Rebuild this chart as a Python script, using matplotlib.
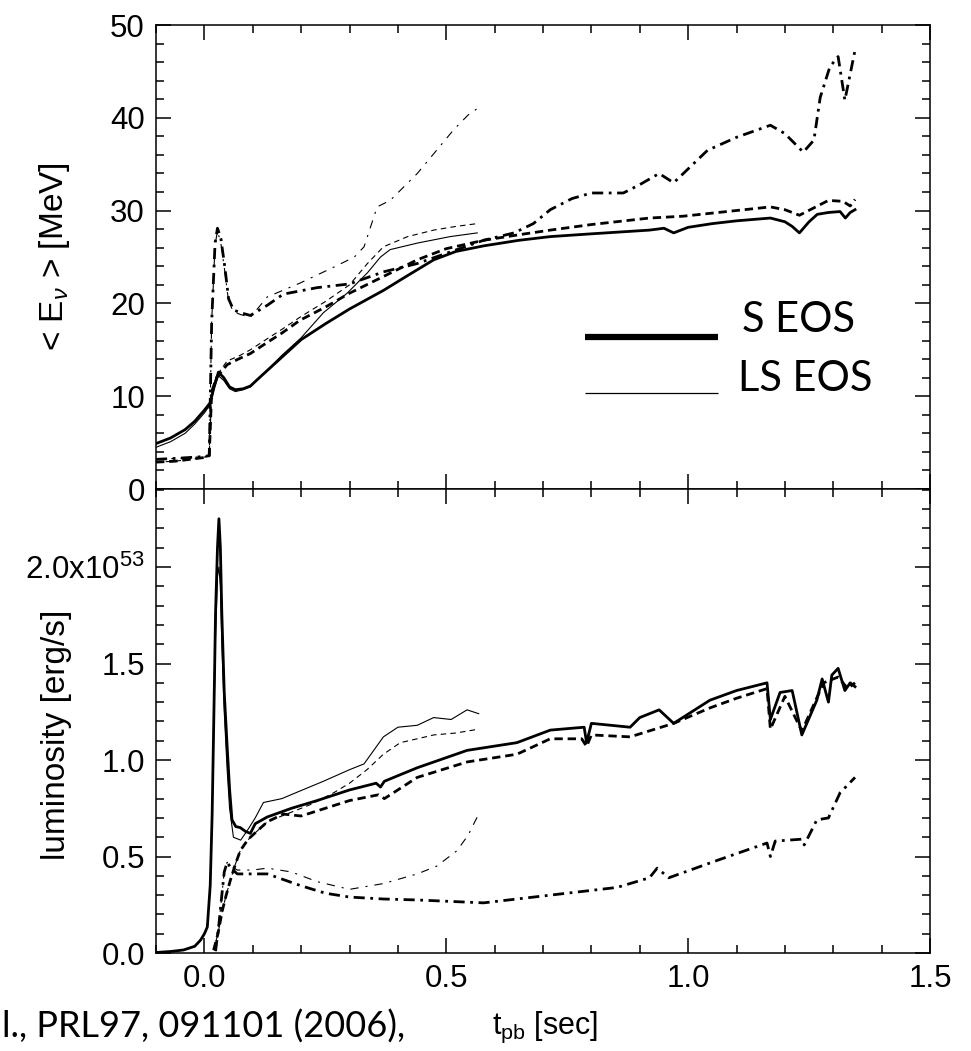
import matplotlib
matplotlib.use('Agg')
import matplotlib.pyplot as plt
from matplotlib.ticker import MultipleLocator, FixedFormatter, FixedLocator

# ---- data (t_pb in sec) ----
# top panel: mean energy <E_nu> [MeV]
s_nue_t = [-0.1, -0.07, -0.04, -0.02, 0.0, 0.012, 0.02, 0.029, 0.04, 0.052, 0.064, 0.08, 0.095,
           0.12, 0.16, 0.2, 0.25, 0.3, 0.37, 0.42, 0.474, 0.52, 0.577, 0.65, 0.715, 0.8, 0.92,
           0.95, 0.97, 1.0, 1.05, 1.1, 1.17, 1.2, 1.215, 1.23, 1.25, 1.267, 1.29, 1.314, 1.325,
           1.335, 1.345]
s_nue_E = [4.9, 5.5, 6.4, 7.3, 8.5, 9.3, 11.0, 12.6, 12.0, 11.0, 10.7, 10.8, 11.1,
           12.3, 14.2, 16.1, 17.8, 19.4, 21.4, 23.0, 24.7, 25.6, 26.2, 26.8, 27.2, 27.5, 27.9,
           28.1, 27.6, 28.2, 28.6, 28.9, 29.2, 28.8, 28.3, 27.6, 28.8, 29.6, 29.8, 29.9, 29.2,
           29.8, 30.1]

ls_nue_t = [-0.1, -0.07, -0.04, -0.02, 0.0, 0.012, 0.02, 0.029, 0.04, 0.052, 0.064, 0.08, 0.095,
            0.12, 0.16, 0.2, 0.246, 0.295, 0.337, 0.364, 0.384, 0.44, 0.508, 0.564]
ls_nue_E = [4.5, 5.1, 6.0, 7.0, 8.2, 9.1, 10.8, 12.2, 11.7, 10.8, 10.5, 10.7, 11.0,
            12.3, 14.4, 16.3, 19.0, 21.1, 23.3, 25.0, 25.8, 26.5, 27.2, 27.6]

s_nueb_t = [-0.1, -0.06, -0.03, 0.0, 0.01, 0.015, 0.025, 0.047, 0.07, 0.095, 0.13, 0.16, 0.198,
            0.25, 0.30, 0.37, 0.44, 0.5, 0.577, 0.65, 0.715, 0.8, 0.92, 0.99, 1.08, 1.17, 1.2,
            1.23, 1.26, 1.29, 1.32, 1.335, 1.345]
s_nueb_E = [2.9, 3.0, 3.2, 3.4, 3.6, 10.5, 12.0, 13.4, 14.0, 14.6, 15.8, 16.8, 18.2,
            19.6, 21.1, 22.9, 24.7, 25.9, 26.8, 27.4, 27.9, 28.5, 29.2, 29.4, 29.9, 30.4, 30.1,
            29.5, 30.3, 31.1, 31.0, 30.5, 31.2]

ls_nueb_t = [-0.1, -0.06, -0.03, 0.0, 0.01, 0.015, 0.025, 0.047, 0.07, 0.095, 0.13, 0.16, 0.2,
             0.25, 0.3, 0.337, 0.37, 0.42, 0.474, 0.52, 0.564]
ls_nueb_E = [2.9, 3.0, 3.2, 3.4, 3.6, 10.5, 12.2, 13.8, 14.3, 15.0, 16.2, 17.2, 18.6,
             20.2, 22.0, 24.3, 26.1, 27.2, 27.9, 28.3, 28.6]

s_numu_t = [-0.1, -0.06, -0.03, 0.0, 0.01, 0.015, 0.022, 0.027, 0.034, 0.042, 0.05, 0.06, 0.075,
            0.095, 0.13, 0.163, 0.233, 0.30, 0.37, 0.44, 0.5, 0.577, 0.64, 0.68, 0.715, 0.76,
            0.8, 0.866, 0.9, 0.94, 0.97, 1.04, 1.1, 1.17, 1.2, 1.238, 1.26, 1.273, 1.293, 1.31,
            1.324, 1.345]
s_numu_E = [3.2, 3.3, 3.4, 3.5, 3.6, 18.0, 26.5, 28.1, 27.0, 24.0, 20.5, 19.3, 19.0,
            18.7, 19.8, 21.0, 21.7, 22.1, 23.4, 24.3, 25.4, 26.8, 27.6, 28.6, 30.1, 31.3,
            31.9, 31.9, 32.8, 34.0, 33.0, 36.5, 37.9, 39.2, 38.3, 36.3, 37.6, 42.2, 45.5, 46.6,
            41.9, 47.3]

ls_numu_t = [-0.1, -0.06, -0.03, 0.0, 0.01, 0.015, 0.022, 0.027, 0.034, 0.042, 0.05, 0.06, 0.075,
             0.095, 0.13, 0.198, 0.267, 0.31, 0.33, 0.357, 0.384, 0.44, 0.48, 0.515, 0.545, 0.567]
ls_numu_E = [3.2, 3.3, 3.4, 3.5, 3.6, 18.0, 26.3, 27.8, 26.5, 23.5, 20.2, 19.1, 18.8,
             18.5, 20.7, 22.2, 23.9, 25.0, 26.1, 30.4, 31.1, 34.0, 36.5, 38.7, 40.3, 41.1]

# bottom panel: luminosity [1e53 erg/s]
s_nue_Lt = [-0.1, -0.07, -0.043, -0.02, -0.008, 0.0, 0.006, 0.012, 0.016, 0.02, 0.023, 0.027,
            0.030, 0.033, 0.036, 0.041, 0.047, 0.052, 0.057, 0.065, 0.074, 0.085, 0.095, 0.105,
            0.13, 0.18, 0.233, 0.30, 0.355, 0.364, 0.372, 0.44, 0.543, 0.646, 0.715, 0.785, 0.79,
            0.80, 0.88, 0.90, 0.94, 0.97, 1.045, 1.10, 1.163, 1.17, 1.19, 1.215, 1.235, 1.266,
            1.277, 1.29, 1.297, 1.31, 1.324, 1.335, 1.345]
s_nue_L = [0.003, 0.008, 0.016, 0.035, 0.067, 0.10, 0.135, 0.35, 0.72, 1.3, 1.76, 2.1,
           2.25, 2.1, 1.76, 1.35, 1.07, 0.85, 0.69, 0.655, 0.65, 0.63, 0.62, 0.67,
           0.705, 0.75, 0.79, 0.845, 0.88, 0.86, 0.89, 0.96, 1.05, 1.09, 1.155, 1.17, 1.09,
           1.19, 1.17, 1.22, 1.26, 1.19, 1.31, 1.36, 1.40, 1.21, 1.35, 1.36, 1.13, 1.31,
           1.42, 1.30, 1.44, 1.475, 1.36, 1.40, 1.38]

ls_nue_Lt = [-0.1, -0.07, -0.043, -0.02, -0.008, 0.0, 0.006, 0.012, 0.016, 0.02, 0.023, 0.027,
             0.030, 0.033, 0.036, 0.041, 0.047, 0.052, 0.06, 0.075, 0.09, 0.105, 0.122, 0.16,
             0.198, 0.246, 0.3, 0.33, 0.37, 0.40, 0.44, 0.474, 0.51, 0.543, 0.567]
ls_nue_L = [0.003, 0.008, 0.016, 0.035, 0.067, 0.10, 0.135, 0.35, 0.72, 1.25, 1.65, 1.95,
            2.0, 1.9, 1.6, 1.25, 0.95, 0.75, 0.6, 0.585, 0.64, 0.70, 0.78, 0.80,
            0.84, 0.89, 0.95, 0.98, 1.12, 1.17, 1.18, 1.22, 1.21, 1.26, 1.24]

s_nueb_Lt = [0.019, 0.028, 0.037, 0.045, 0.054, 0.064, 0.074, 0.085, 0.095, 0.13, 0.163, 0.2,
             0.25, 0.30, 0.36, 0.372, 0.44, 0.543, 0.646, 0.715, 0.78, 0.79, 0.80, 0.88, 0.97,
             1.045, 1.10, 1.163, 1.17, 1.2, 1.235, 1.28, 1.31, 1.33, 1.345]
s_nueb_L = [0.015, 0.1, 0.22, 0.3, 0.38, 0.46, 0.53, 0.57, 0.60, 0.68, 0.72, 0.71,
            0.75, 0.79, 0.82, 0.80, 0.91, 0.99, 1.03, 1.11, 1.11, 1.07, 1.13, 1.12, 1.19,
            1.27, 1.32, 1.37, 1.16, 1.33, 1.15, 1.40, 1.43, 1.37, 1.40]

ls_nueb_Lt = [0.019, 0.028, 0.037, 0.045, 0.054, 0.064, 0.074, 0.085, 0.095, 0.13, 0.17, 0.22,
              0.267, 0.3, 0.336, 0.37, 0.405, 0.44, 0.474, 0.52, 0.567]
ls_nueb_L = [0.015, 0.1, 0.22, 0.3, 0.38, 0.46, 0.53, 0.57, 0.60, 0.68, 0.72, 0.77,
             0.83, 0.88, 0.95, 1.03, 1.09, 1.11, 1.13, 1.14, 1.16]

s_numu_Lt = [0.023, 0.03, 0.036, 0.041, 0.047, 0.055, 0.068, 0.1, 0.13, 0.198, 0.25, 0.30,
             0.37, 0.44, 0.577, 0.715, 0.853, 0.92, 0.936, 0.96, 1.06, 1.163, 1.17, 1.18,
             1.235, 1.24, 1.266, 1.29, 1.314, 1.345]
s_numu_L = [0.01, 0.15, 0.3, 0.42, 0.47, 0.44, 0.41, 0.41, 0.41, 0.35, 0.31, 0.29,
            0.28, 0.275, 0.26, 0.30, 0.34, 0.39, 0.44, 0.39, 0.48, 0.57, 0.50, 0.58,
            0.59, 0.56, 0.69, 0.70, 0.83, 0.91]

ls_numu_Lt = [0.023, 0.03, 0.036, 0.041, 0.047, 0.055, 0.068, 0.1, 0.13, 0.18, 0.233, 0.30,
              0.37, 0.44, 0.48, 0.522, 0.545, 0.567]
ls_numu_L = [0.01, 0.15, 0.3, 0.42, 0.47, 0.45, 0.43, 0.43, 0.44, 0.42, 0.37, 0.33,
             0.36, 0.41, 0.45, 0.53, 0.61, 0.72]

ytick_lum = [0.0, 0.5, 1.0, 1.5, 2.0]
ytick_lum_labels = ['0.0', '0.5', '1.0', '1.5', r'2.0x10$^{53}$']

# ---- style ----
plt.rcParams['font.family'] = ['Liberation Sans', 'DejaVu Sans']
plt.rcParams['mathtext.fontset'] = 'custom'
plt.rcParams['mathtext.rm'] = 'Liberation Sans'
plt.rcParams['mathtext.it'] = 'Liberation Sans:italic'
plt.rcParams['lines.scale_dashes'] = False
plt.rcParams['axes.linewidth'] = 1.1

THICK = 2.0
THIN = 0.8
solid = '-'
dashed_thick = (0, (6, 3.5))
dashed_thin = (0, (4, 3))
dashdot_thick = (0, (8, 4, 2, 4))
dashdot_thin = (0, (6, 5, 1.5, 5))

fig = plt.figure(figsize=(9.71, 10.51), dpi=100)
ax1 = fig.add_axes([0.1607, 0.5347, 0.7971, 0.4415])
ax2 = fig.add_axes([0.1607, 0.0932, 0.7971, 0.4415], sharex=ax1)

# top panel
ax1.plot(s_nue_t, s_nue_E, color='k', lw=THICK, ls=solid)
ax1.plot(ls_nue_t, ls_nue_E, color='k', lw=THIN, ls=solid)
ax1.plot(s_nueb_t, s_nueb_E, color='k', lw=THICK, ls=dashed_thick)
ax1.plot(ls_nueb_t, ls_nueb_E, color='k', lw=THIN, ls=dashed_thin)
ax1.plot(s_numu_t, s_numu_E, color='k', lw=THICK, ls=dashdot_thick)
ax1.plot(ls_numu_t, ls_numu_E, color='k', lw=THIN, ls=dashdot_thin)

# bottom panel
ax2.plot(s_nue_Lt, s_nue_L, color='k', lw=THICK, ls=solid)
ax2.plot(ls_nue_Lt, ls_nue_L, color='k', lw=THIN, ls=solid)
ax2.plot(s_nueb_Lt, s_nueb_L, color='k', lw=THICK, ls=dashed_thick)
ax2.plot(ls_nueb_Lt, ls_nueb_L, color='k', lw=THIN, ls=dashed_thin)
ax2.plot(s_numu_Lt, s_numu_L, color='k', lw=THICK, ls=dashdot_thick)
ax2.plot(ls_numu_Lt, ls_numu_L, color='k', lw=THIN, ls=dashdot_thin)

ax1.set_xlim(-0.1, 1.5)
ax1.set_ylim(0, 50)
ax2.set_ylim(0, 2.404)

for ax in (ax1, ax2):
    ax.xaxis.set_major_locator(MultipleLocator(0.5))
    ax.xaxis.set_minor_locator(MultipleLocator(0.1))
    ax.tick_params(which='both', direction='in', top=True, right=True,
                   labelsize=22.5, pad=8, width=1.1)
    ax.tick_params(which='major', length=11)
    ax.tick_params(which='minor', length=6)
    ax.xaxis.set_major_formatter(plt.FuncFormatter(lambda v, p: f'{v:.1f}'))

ax1.yaxis.set_major_locator(MultipleLocator(10))
ax1.yaxis.set_minor_locator(MultipleLocator(2))
ax1.tick_params(labelbottom=False)

ax2.yaxis.set_major_locator(FixedLocator(ytick_lum))
ax2.yaxis.set_major_formatter(FixedFormatter(ytick_lum_labels))
ax2.yaxis.set_minor_locator(MultipleLocator(0.1))

ax1.set_ylabel(r'< E$_\nu$ > [MeV]', fontsize=24)
ax1.yaxis.set_label_coords(-0.108, 0.5)
ax2.set_ylabel('luminosity [erg/s]', fontsize=24)
ax2.yaxis.set_label_coords(-0.108, 0.47)

# legend for the two EOS
ax1.plot([0.554, 0.726], [0.3276, 0.3276], transform=ax1.transAxes, color='k', lw=4.5,
         solid_capstyle='butt')
ax1.plot([0.554, 0.726], [0.207, 0.207], transform=ax1.transAxes, color='k', lw=0.9,
         solid_capstyle='butt')
ax1.text(0.757, 0.364, 'S EOS', transform=ax1.transAxes, fontsize=30, family='Lato',
         ha='left', va='center')
ax1.text(0.752, 0.237, 'LS EOS', transform=ax1.transAxes, fontsize=30, family='Lato',
         ha='left', va='center')

fig.text(545 / 971, 1 - 1027 / 1051, r't$_{\mathrm{pb}}$ [sec]', fontsize=22,
         ha='center', va='center')
fig.text(2 / 971, 1 - 1027 / 1051, 'l., PRL97, 091101 (2006),', fontsize=26, family='Lato',
         ha='left', va='center')

fig.savefig('out.png', dpi=100)
